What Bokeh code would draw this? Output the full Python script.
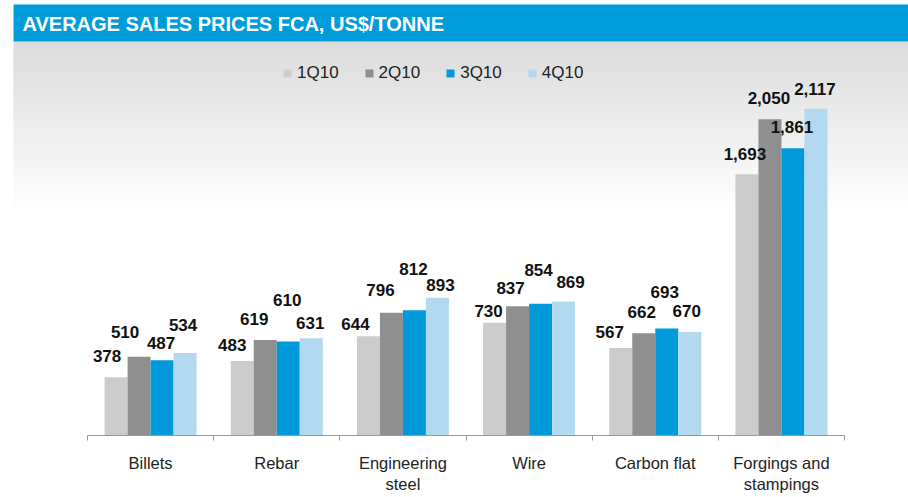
import numpy as np
from bokeh.plotting import figure
from bokeh.models import (ColumnDataSource, FixedTicker, BoxAnnotation, Label,
                          Legend, LegendItem)
from bokeh.core.properties import value
from bokeh.embed import file_html
from bokeh.resources import INLINE

# ---------------- data ----------------
categories = ["Billets", "Rebar", "Engineering\nsteel", "Wire",
              "Carbon flat", "Forgings and\nstampings"]
quarters = ["1Q10", "2Q10", "3Q10", "4Q10"]
q1_10 = [378, 483, 644, 730, 567, 1693]
q2_10 = [510, 619, 796, 837, 662, 2050]
q3_10 = [487, 610, 812, 854, 693, 1861]
q4_10 = [534, 631, 893, 869, 670, 2117]
series = [q1_10, q2_10, q3_10, q4_10]
title_text = "AVERAGE SALES PRICES FCA, US$/TONNE"

# ---------------- styles ----------------
colors = ["#cccccc", "#8f8f8f", "#009ada", "#b3d9f0"]
# label placement offsets in pixels relative to bar top-center (style only)
label_dx = [[-9, -10, -13, -6, -11, -2],
            [-14, -11, -11, -7, -2, -1],
            [-1, -1, -1, -2, -2, -1],
            [-2, -1, 3, 7, -3, -1]]
label_up = [[21, 16, 12, 12, 16, 20],
            [25, 21, 23, 18, 21, 21],
            [17, 41, 41, 34, 37, 21],
            [28, 15, 13, 19, 21, 20]]

FONT = "Liberation Sans"
X0, XS = 87.0, 126.17     # canvas px of first category boundary, px per category
Y0, YS = 435.0, 0.1543    # canvas px of baseline, px per US$
W = 908
def dx(px): return (px - X0) / XS
def dy(py): return (Y0 - py) / YS

n = len(categories)
bw = 23.0 / XS

p = figure(frame_width=W, frame_height=int(Y0),
           x_range=(dx(0), dx(W)), y_range=(0, dy(0)),
           y_axis_location=None, output_backend="svg", toolbar_location=None,
           min_border_left=0, min_border_right=0, min_border_top=0,
           min_border_bottom=0)
p.background_fill_color = "white"
p.border_fill_color = "white"
p.outline_line_color = None
p.grid.visible = False

# gradient background under the title bar
g_top, g_bot, nstrip = 41.0, 212.0, 45
c0 = np.array([220, 220, 220]); c1 = np.array([255, 255, 255])
for k in range(nstrip):
    t0 = g_top + (g_bot - g_top) * k / nstrip
    t1 = g_top + (g_bot - g_top) * (k + 1) / nstrip + 1
    f = k / (nstrip - 1)
    c = (c0 + (c1 - c0) * f).astype(int)
    p.add_layout(BoxAnnotation(left=dx(13), bottom=dy(t1), top=dy(t0),
                               fill_color="#%02x%02x%02x" % tuple(c),
                               fill_alpha=1, line_color=None, level="underlay"))

# title bar
p.add_layout(BoxAnnotation(left=dx(13), bottom=dy(41), top=dy(4),
                           fill_color="#009bd9", fill_alpha=1, line_color=None,
                           level="underlay"))
p.add_layout(Label(x=dx(22), y=dy(23), text=title_text, text_color="white",
                   text_font=FONT, text_font_style="bold", text_font_size="20px",
                   text_baseline="middle", text_align="left"))

# bars
centers = np.arange(n) + 0.5
items = []
lx, ly, lt, ldx, ldy = [], [], [], [], []
for j, (q, vals) in enumerate(zip(quarters, series)):
    xs = centers + (j - 1.5) * bw
    src = ColumnDataSource(dict(x=xs, top=vals))
    r = p.vbar(x="x", top="top", width=bw, source=src, fill_color=colors[j],
               line_color=None)
    items.append(LegendItem(label=q, renderers=[r]))
    for i in range(n):
        lx.append(xs[i]); ly.append(vals[i]); lt.append(f"{vals[i]:,}")
        ldx.append(label_dx[j][i]); ldy.append(-label_up[j][i])

lab = ColumnDataSource(dict(x=lx, y=ly, t=lt, dx=ldx, dy=ldy))
p.text(x="x", y="y", text="t", x_offset="dx", y_offset="dy", source=lab,
       text_font=value(FONT), text_font_style="bold", text_font_size="17px",
       text_align="center", text_baseline="middle", text_color="#111111")

# legend
legend = Legend(items=items, orientation="horizontal", location=(282, 352),
                glyph_width=10, glyph_height=10, label_standoff=5, spacing=25,
                padding=0, margin=0, border_line_color=None,
                background_fill_alpha=0, label_text_font=FONT,
                label_text_font_size="17px", label_text_color="#222222",
                label_height=17)
p.add_layout(legend, "center")

# x axis
ax = p.xaxis[0]
ax.ticker = FixedTicker(ticks=list(centers), minor_ticks=list(range(n + 1)))
ax.major_label_overrides = {float(c): lab_ for c, lab_ in zip(centers, categories)}
ax.bounds = (0, n)
ax.axis_line_color = "#999999"
ax.minor_tick_line_color = "#999999"
ax.minor_tick_out = 5
ax.minor_tick_in = 0
ax.major_tick_out = 0
ax.major_tick_in = 0
ax.major_label_standoff = 13
ax.major_label_text_font = FONT
ax.major_label_text_font_size = "16.5px"
ax.major_label_text_color = "#222222"

open("out.html", "w").write(file_html(p, INLINE))
